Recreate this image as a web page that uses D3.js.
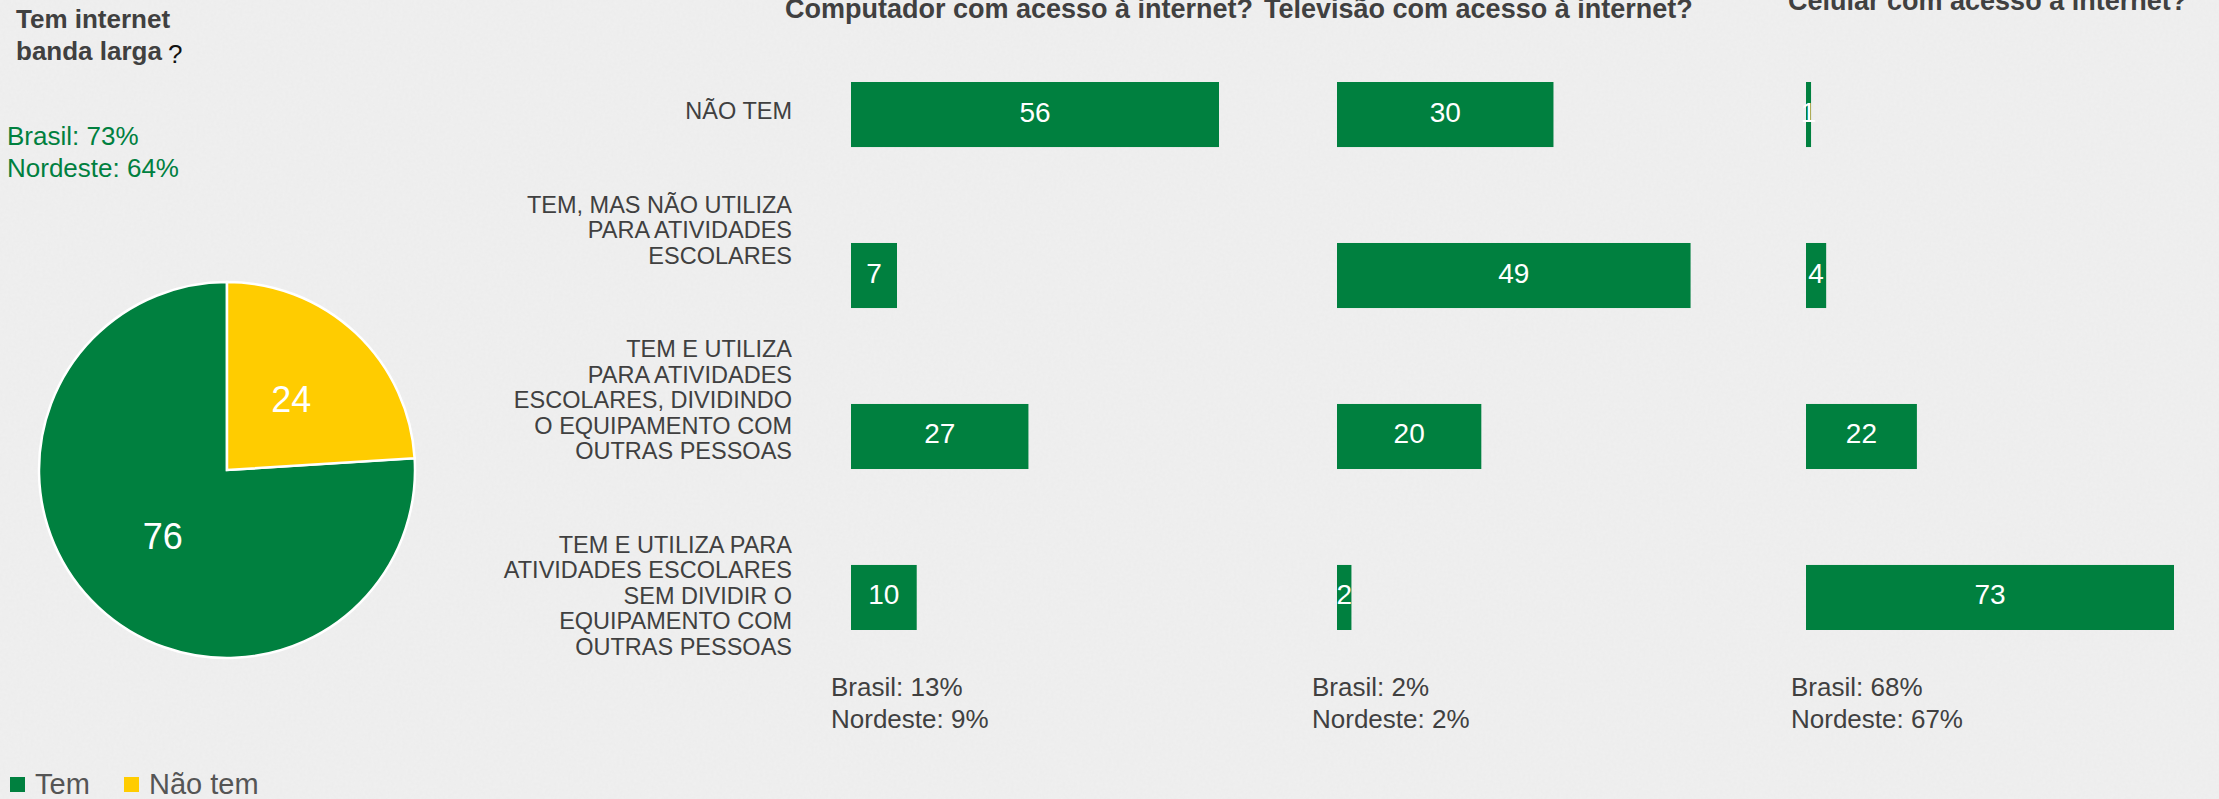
<!DOCTYPE html>
<html>
<head>
<meta charset="utf-8">
<script src="https://cdn.jsdelivr.net/npm/d3@7"></script>
<style>
  html, body { margin: 0; padding: 0; background: #efefef; overflow: hidden; }
  svg { display: block; font-family: "Liberation Sans", Arial, sans-serif; }
</style>
</head>
<body>
<div id="chart"></div>
<script>
// page size
const width = 2219;
const height = 799;

// pie: "Tem internet banda larga?"
const pieLabels = ["Tem", "Não tem"];
const pieValues = [76, 24];
const pieColors = ["#00803f", "#ffcc00"];
const pieStats = ["Brasil: 73%", "Nordeste: 64%"];

// bar charts, one per device
const devices = ["Computador com acesso à internet?", "Televisão com acesso à internet?", "Celular com acesso à internet?"];
const categories = [
    ["NÃO TEM"],
    ["TEM, MAS NÃO UTILIZA", "PARA ATIVIDADES", "ESCOLARES"],
    ["TEM E UTILIZA", "PARA ATIVIDADES", "ESCOLARES, DIVIDINDO", "O EQUIPAMENTO COM", "OUTRAS PESSOAS"],
    ["TEM E UTILIZA PARA", "ATIVIDADES ESCOLARES", "SEM DIVIDIR O", "EQUIPAMENTO COM", "OUTRAS PESSOAS"]
];
const computador = [56, 7, 27, 10];
const televisao = [30, 49, 20, 2];
const celular = [1, 4, 22, 73];
const brasil = ["13%", "2%", "68%"];
const nordeste = ["9%", "2%", "67%"];
// each small chart has its own axis maximum
const axisMax = [56, 51, 73];

const series = [computador, televisao, celular];

const green = "#00803f";
const textGray = "#404040";

const svg = d3.select("#chart")
    .append("svg")
    .attr("width", width)
    .attr("height", height);

// paper-like background
const defs = svg.append("defs");
const paper = defs.append("filter").attr("id", "paper")
    .attr("x", 0).attr("y", 0).attr("width", "100%").attr("height", "100%");
paper.append("feTurbulence")
    .attr("type", "fractalNoise")
    .attr("baseFrequency", 0.35)
    .attr("numOctaves", 3)
    .attr("seed", 4);
paper.append("feColorMatrix")
    .attr("type", "matrix")
    .attr("values", "0 0 0 0 0.55  0 0 0 0 0.55  0 0 0 0 0.55  0 0 0 0.09 0");

svg.append("rect")
    .attr("width", width)
    .attr("height", height)
    .attr("fill", "#f0f0f0");
svg.append("rect")
    .attr("width", width)
    .attr("height", height)
    .attr("filter", "url(#paper)");

// ---------- left: pie ----------
svg.append("text")
    .attr("x", 16).attr("y", 28)
    .attr("font-size", 26).attr("font-weight", "bold").attr("fill", textGray)
    .text("Tem internet");
const t2 = svg.append("text")
    .attr("x", 16).attr("y", 60)
    .attr("font-size", 26).attr("fill", textGray);
t2.append("tspan").attr("font-weight", "bold").text("banda larga");
t2.append("tspan").attr("fill", "#111").attr("dx", 6).attr("dy", 3).text("?");

svg.selectAll(".pie-stat")
    .data(pieStats)
    .join("text")
    .attr("class", "pie-stat")
    .attr("x", 7)
    .attr("y", (d, i) => 145 + i * 32)
    .attr("font-size", 26)
    .attr("fill", green)
    .text(d => d);

const pieCx = 227, pieCy = 470, radius = 188;
const total = d3.sum(pieValues);
const offset = pieValues[1] / total * 2 * Math.PI;

const pie = d3.pie()
    .sort(null)
    .startAngle(offset)
    .endAngle(offset + 2 * Math.PI);

const arc = d3.arc().innerRadius(0).outerRadius(radius);
const labelArc = d3.arc().innerRadius(radius * 0.5).outerRadius(radius * 0.5);

const pieG = svg.append("g").attr("transform", `translate(${pieCx},${pieCy})`);
const slices = pie(pieValues);

pieG.selectAll("path")
    .data(slices)
    .join("path")
    .attr("d", arc)
    .attr("fill", (d, i) => pieColors[i])
    .attr("stroke", "#ffffff")
    .attr("stroke-width", 2.5);

pieG.selectAll(".slice-label")
    .data(slices)
    .join("text")
    .attr("class", "slice-label")
    .attr("transform", d => `translate(${labelArc.centroid(d)})`)
    .attr("text-anchor", "middle")
    .attr("dy", "0.3em")
    .attr("font-size", 36)
    .attr("fill", "#ffffff")
    .text(d => d.value);

// legend
const legend = svg.append("g").attr("transform", "translate(10,777)");
const legendX = [0, 114];
pieLabels.forEach((lab, i) => {
    legend.append("rect")
        .attr("x", legendX[i]).attr("y", 0)
        .attr("width", 15).attr("height", 15)
        .attr("fill", pieColors[i]);
    legend.append("text")
        .attr("x", legendX[i] + 25).attr("y", 17)
        .attr("font-size", 29)
        .attr("fill", "#555555")
        .text(lab);
});

// ---------- right: bars ----------
const yScale = d3.scaleBand()
    .domain(d3.range(categories.length))
    .range([82, 630])
    .paddingInner(0.596)
    .paddingOuter(0);

// category labels as one text block, right aligned
const labelRight = 792;
const lineH = 25.5;
const paraGap = 93.5;
let baseY = 119;
const labelG = svg.append("g");
categories.forEach((lines, ci) => {
    if (ci > 0) baseY += paraGap;
    lines.forEach((line, li) => {
        if (li > 0) baseY += lineH;
        labelG.append("text")
            .attr("x", labelRight)
            .attr("y", baseY)
            .attr("text-anchor", "end")
            .attr("font-size", 23.5)
            .attr("fill", textGray)
            .text(line);
    });
});

const colStart = [851, 1337, 1806];
const colWidth = 368;
const titleX = [785, 1264, 1788];
const titleY = [18, 18, 10];
const statX = [831, 1312, 1791];

series.forEach((vals, k) => {
    const xScale = d3.scaleLinear()
        .domain([0, axisMax[k]])
        .range([colStart[k], colStart[k] + colWidth]);

    svg.append("text")
        .attr("x", titleX[k]).attr("y", titleY[k])
        .attr("font-size", 27).attr("font-weight", "bold")
        .attr("fill", textGray)
        .text(devices[k]);

    const g = svg.append("g");
    g.selectAll("rect")
        .data(vals)
        .join("rect")
        .attr("x", xScale(0))
        .attr("y", (d, i) => yScale(i))
        .attr("width", d => xScale(d) - xScale(0))
        .attr("height", yScale.bandwidth())
        .attr("fill", green);

    g.selectAll("text")
        .data(vals)
        .join("text")
        .attr("x", d => (xScale(0) + xScale(d)) / 2)
        .attr("y", (d, i) => yScale(i) + yScale.bandwidth() / 2)
        .attr("dy", "0.25em")
        .attr("text-anchor", "middle")
        .attr("font-size", 28)
        .attr("fill", "#ffffff")
        .text(d => d);

    svg.append("text")
        .attr("x", statX[k]).attr("y", 696)
        .attr("font-size", 26).attr("fill", textGray)
        .text("Brasil: " + brasil[k]);
    svg.append("text")
        .attr("x", statX[k]).attr("y", 728)
        .attr("font-size", 26).attr("fill", textGray)
        .text("Nordeste: " + nordeste[k]);
});
</script>
</body>
</html>
